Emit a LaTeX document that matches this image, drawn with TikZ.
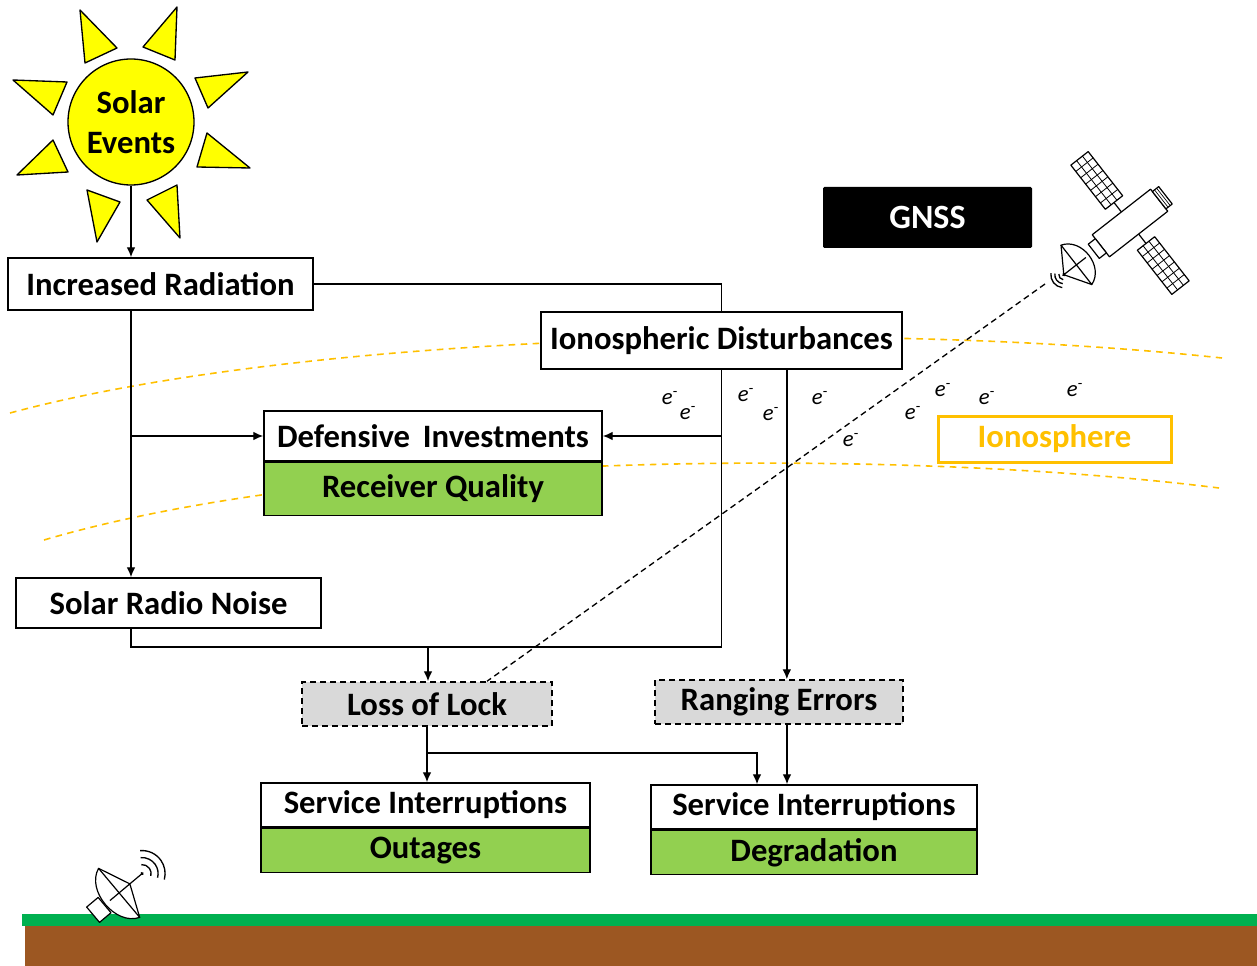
\documentclass[tikz,border=0pt]{standalone}
\usepackage{fontspec}
\setmainfont{Carlito}
\usepackage{tikz}
\usetikzlibrary{arrows.meta,positioning,calc}
\definecolor{sunyellow}{RGB}{255,255,0}
\definecolor{fillgreen}{RGB}{146,208,80}
\definecolor{eventgray}{RGB}{217,217,217}
\definecolor{ionoorange}{RGB}{255,192,0}
\definecolor{grass}{RGB}{0,176,80}
\definecolor{soil}{RGB}{156,87,34}
\tikzstyle{box}=[draw, fill=white, line width=1.1pt, inner sep=0pt, font=\bfseries\fontsize{24.5}{28}\selectfont]
\tikzstyle{greenbox}=[box, fill=fillgreen]
\tikzstyle{event}=[box, fill=eventgray, dash pattern=on 4.5pt off 3pt]
\tikzstyle{arr}=[-{Latex[length=7.5pt,width=6.5pt]}, line width=1pt]
\tikzstyle{wire}=[line width=1pt]
\tikzstyle{iono}=[color=ionoorange, line width=1.2pt, dash pattern=on 5pt off 4pt]
\tikzstyle{elec}=[inner sep=0pt, font=\itshape\fontsize{17}{17}\selectfont]
\tikzstyle{ray}=[draw, fill=sunyellow, line width=1pt, line join=round]
\tikzstyle{sat}=[draw, fill=white, line width=0.9pt, line join=round]

\begin{document}
\begin{tikzpicture}[x=0.75pt, y=-0.75pt]
    \useasboundingbox (0,0) rectangle (1257,966);

    % ionosphere layer, drawn first so the boxes cover it
    \draw[iono] (10,413) .. controls (300,335) and (850,318) .. (1222,358);
    \draw[iono] (44,540) .. controls (350,450) and (900,448) .. (1219,488);

    % sun rays, using a loop
    \foreach \ax/\ay/\bx/\by/\cx/\cy in {80/10/117/48/85/63, 177/7/143/47/175/60,
      13/80/67/82/53/115, 248/72/195/78/208/108, 17/175/53/140/68/172,
      250/168/197/167/207/133, 87/190/120/202/97/242, 147/200/177/185/180/238}
    \draw[ray] (\ax,\ay) -- (\bx,\by) -- (\cx,\cy) -- cycle;
    \node[circle, draw, fill=sunyellow, line width=1pt, minimum size=94.5pt, align=center,
      font=\bfseries\fontsize{24.5}{30}\selectfont] (sun) at (131,122) {Solar\\Events};

    % boxes
    \node[box, minimum width=228.75pt, minimum height=39pt] (rad) at (160.5,284) {Increased Radiation};
    \node[box, minimum width=270.75pt, minimum height=42.75pt] (iondist) at (721.5,340.5) {Ionospheric Disturbances};
    \node[box, minimum width=253.5pt, minimum height=37.5pt] (defense) at (433,436) {Defensive\, Investments};
    \node[greenbox, below=0pt of defense, minimum width=253.5pt, minimum height=39.75pt] (receiver) {Receiver Quality};
    \node[box, minimum width=228.75pt, minimum height=37.5pt] (noise) at (168.5,603) {Solar Radio Noise};
    \node[event, minimum width=187.5pt, minimum height=33pt] (lock) at (427,704) {Loss of Lock};
    \node[event, minimum width=186pt, minimum height=33pt] (ranging) at (779,702) {Ranging Errors};
    \node[box, minimum width=246.75pt, minimum height=33pt] (interA) at (425.5,805) {Service Interruptions};
    \node[greenbox, below=0pt of interA, minimum width=246.75pt, minimum height=33pt] (outage) {Outages};
    \node[box, minimum width=244.5pt, minimum height=33pt] (interB) at (814,807) {Service Interruptions};
    \node[greenbox, below=0pt of interB, minimum width=244.5pt, minimum height=33pt] (degrade) {Degradation};

    \node[fill=black, text=white, rounded corners=1pt, minimum width=156.75pt, minimum height=45.75pt,
      font=\bfseries\fontsize{25.5}{28}\selectfont] (gnss) at (927.5,217.5) {GNSS};
    \node[draw=ionoorange, line width=2.25pt, text=ionoorange, minimum width=174.75pt, minimum height=34.5pt,
      font=\bfseries\fontsize{24.5}{28}\selectfont] (ionolabel) at (1054.5,439) {Ionosphere};

    % free electrons
    \foreach \x/\y [count=\n] in {670/398, 688/413, 746/395, 771/414, 820/398,
      851/440, 913/413, 943/390, 987/398, 1075/390}
    \node[elec] (elec\n) at (\x,\y) {e\textsuperscript{-}};

    % connectors
    \coordinate (bus) at (428,647);
    \coordinate (split) at (427,753);
    \draw[arr] (sun.south) -- (sun.south |- rad.north);
    \draw[wire] (rad.east) -| (iondist.north);
    \draw[arr] (sun.south |- rad.south) -- (sun.south |- noise.north);
    \draw[arr] (sun.south |- defense.west) -- (defense.west);
    \draw[arr] (iondist.south) |- (defense.east);
    \draw[wire] (noise.south -| sun.south) |- (bus) -| (iondist.south);
    \draw[arr] (bus) -- (bus |- lock.north);
    \draw[arr] ([xshift=49pt]iondist.south) -- ([xshift=49pt]iondist.south |- ranging.north);
    \draw[arr] (lock.south) -- (lock.south |- interA.north);
    \draw[arr] (split) -| ([xshift=-42.75pt]interB.north);
    \draw[arr] ([xshift=6pt]ranging.south) -- ([xshift=6pt]ranging.south |- interB.north);

    % ground
    \fill[soil] (25,926) rectangle (1257,966);
    \fill[grass] (22,914) rectangle (1257,926);

    % satellite
    \begin{scope}[shift={(1130,223)}, rotate=38]
      \foreach \side in {-1,1}{
        \draw[sat] (0,14*\side) -- (0,26*\side);
        \draw[sat] (-11,26*\side) rectangle (11,82*\side);
        \foreach \g in {-3.7,3.7} \draw[line width=0.6pt] (\g,26*\side) -- (\g,82*\side);
        \foreach \g in {34,42,50,58,66,74} \draw[line width=0.6pt] (-11,\g*\side) -- (11,\g*\side);
      }
      \draw[sat] (-37,-14) rectangle (37,14);
      \draw[sat] (37,-11) rectangle (45,11);
      \foreach \g in {39.7,42.4} \draw[line width=0.5pt] (\g,-11) -- (\g,11);
      \draw[sat] (-46,-9) rectangle (-37,9);
      \draw[sat] (-68,-25) .. controls (-47,-18) and (-47,18) .. (-68,25) -- cycle;
      \draw[line width=0.9pt] (-68,-25) -- (-84,0) -- (-68,25) (-56,0) -- (-84,0);
      \fill (-84,0) circle[radius=1.8];
      \foreach \r in {5,9,13} \draw[line width=1pt] (-84,0) ++(135:\r) arc[start angle=135, end angle=225, radius=\r];
    \end{scope}
    \coordinate (satlink) at (1045,284);
    \draw[wire, dash pattern=on 4.5pt off 3pt] (satlink) -- ([xshift=45pt]lock.north);

    % ground receiver
    \begin{scope}[shift={(113,898)}, rotate=40]
      \draw[sat] (-26,-10) rectangle (-11,10);
      \draw[sat] (8,-32) .. controls (-16,-23) and (-16,23) .. (8,32) -- cycle;
      \draw[line width=0.9pt] (8,-32) -- (22,0) -- (8,32) (-4,0) -- (38,0);
      \fill (38,0) circle[radius=1.8];
      \foreach \r in {9,16,23} \draw[line width=1pt] (38,0) ++(-55:\r) arc[start angle=-55, end angle=55, radius=\r];
    \end{scope}

\end{tikzpicture}
\end{document}
